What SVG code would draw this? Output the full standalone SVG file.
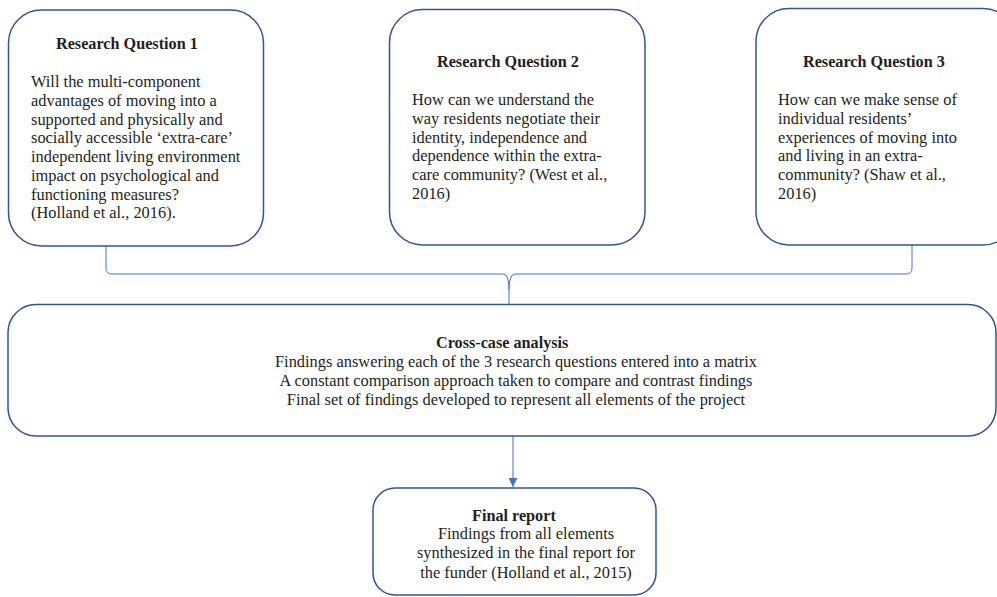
<svg xmlns="http://www.w3.org/2000/svg" width="997" height="597" viewBox="0 0 997 597">
<defs>
<style>
.box{fill:#fff;stroke:#2F5597;stroke-width:1.5}
.con{fill:none;stroke:#4472C4;stroke-width:1}
text{font-family:"Liberation Serif","Times New Roman",serif;font-size:16.4px;fill:#231F20}
.b{font-weight:bold;font-size:16.2px}
.c{text-anchor:middle}
</style>
<marker id="ah" viewBox="0 0 10 10" refX="10" refY="5" markerWidth="9" markerHeight="9" markerUnits="userSpaceOnUse" orient="auto">
<path d="M0,0 L10,5 L0,10 z" fill="#4472C4"/>
</marker>
</defs>
<rect width="997" height="597" fill="#fff"/>
<g id="connectors">
<path class="con" d="M106,246 V268 Q106,274 112,274 H503 Q509,274 509,290 V304"/>
<path class="con" d="M912,245 V268 Q912,274 906,274 H515 Q509,274 509,290"/>
<path class="con" d="M513,436 V487" marker-end="url(#ah)"/>
</g>
<g id="rq1">
<rect class="box" x="8.5" y="10" width="255" height="236" rx="33"/>
<text class="b" x="56" y="49">Research Question 1</text>
<text x="31" y="87">Will the multi-component</text>
<text x="31" y="106">advantages of moving into a</text>
<text x="31" y="124.5">supported and physically and</text>
<text x="31" y="143">socially accessible ‘extra-care’</text>
<text x="31" y="162">independent living environment</text>
<text x="31" y="181">impact on psychological and</text>
<text x="31" y="199.5">functioning measures?</text>
<text x="31" y="218">(Holland et al., 2016).</text>
</g>
<g id="rq2">
<rect class="box" x="389.5" y="9.5" width="255.5" height="235.5" rx="33"/>
<text class="b" x="437" y="67">Research Question 2</text>
<text x="412" y="105">How can we understand the</text>
<text x="412" y="124">way residents negotiate their</text>
<text x="412" y="142.5">identity, independence and</text>
<text x="412" y="161">dependence within the extra-</text>
<text x="412" y="180">care community? (West et al.,</text>
<text x="412" y="199">2016)</text>
</g>
<g id="rq3">
<rect class="box" x="756" y="8.5" width="260" height="236.5" rx="33"/>
<text class="b" x="803" y="67">Research Question 3</text>
<text x="778" y="105">How can we make sense of</text>
<text x="778" y="124">individual residents’</text>
<text x="778" y="142.5">experiences of moving into</text>
<text x="778" y="161">and living in an extra-</text>
<text x="778" y="180">community? (Shaw et al.,</text>
<text x="778" y="199">2016)</text>
</g>
<g id="crosscase">
<rect class="box" x="8" y="304.5" width="988" height="131.5" rx="28"/>
<text class="b" x="436" y="348">Cross-case analysis</text>
<text class="c" x="516" y="367">Findings answering each of the 3 research questions entered into a matrix</text>
<text class="c" x="516" y="386">A constant comparison approach taken to compare and contrast findings</text>
<text class="c" x="516" y="405">Final set of findings developed to represent all elements of the project</text>
</g>
<g id="finalreport">
<rect class="box" x="373" y="488" width="283" height="107" rx="22"/>
<text class="b" x="472" y="521">Final report</text>
<text class="c" x="526" y="539">Findings from all elements</text>
<text class="c" x="526" y="558">synthesized in the final report for</text>
<text class="c" x="526" y="578">the funder (Holland et al., 2015)</text>
</g>
</svg>
